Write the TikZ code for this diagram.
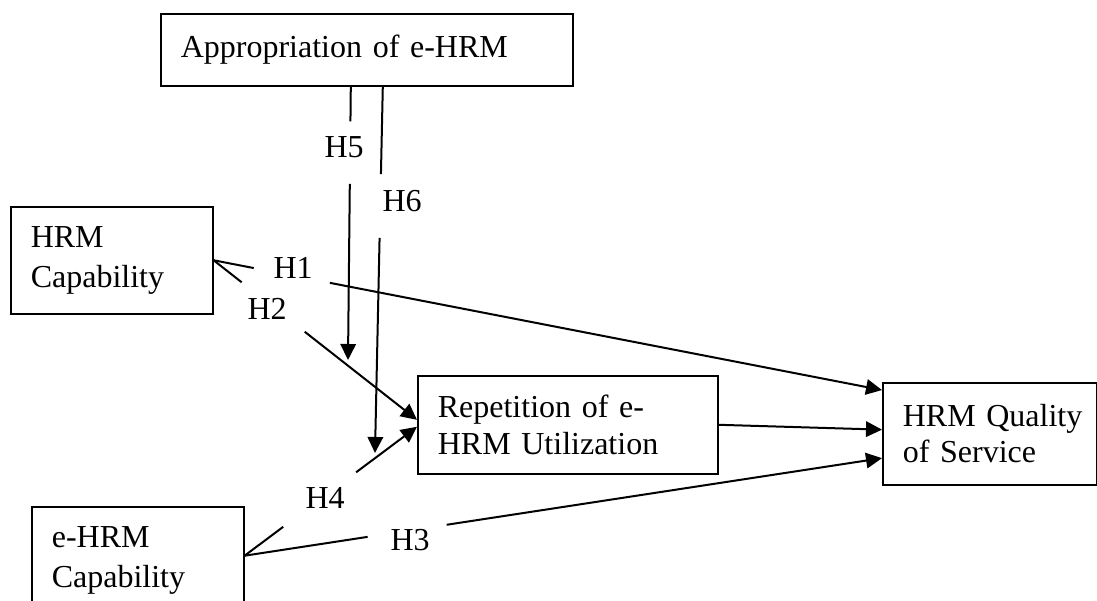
\documentclass[tikz,border=0pt]{standalone}
\usepackage{fontspec}
\setmainfont{Liberation Serif}
\usetikzlibrary{arrows.meta,calc}
\begin{document}
\begin{tikzpicture}[x=0.375pt,y=-0.375pt,
  box/.style={draw, line width=0.6pt, anchor=north west, align=left, inner xsep=7.5pt, inner ysep=0pt},
  conn/.style={line width=0.75pt},
  arr/.style={conn, -{Triangle[length=6pt,width=5.8pt]}},
  lab/.style={anchor=base west, inner sep=0pt, font=\fontsize{12}{14}\selectfont}]
\useasboundingbox (0,0) rectangle (1097,601);
% boxes
\node[box, text width=139.5pt, minimum height=27pt, font=\fontsize{12}{14}\selectfont] (app) at (160,13) {Appropriation of e-HRM};
\node[box, text width=60.75pt, minimum height=40.1pt, font=\fontsize{12}{15}\selectfont] (hrmcap) at (10,206) {HRM\\Capability};
\node[box, text width=64.5pt, minimum height=40.1pt, font=\fontsize{12}{15}\selectfont] (ecap) at (31,506) {e-HRM\\Capability};
\node[box, text width=97.5pt, minimum height=36.75pt, font=\fontsize{12}{13.9}\selectfont] (rep) at (417,375) {Repetition of e-\\HRM Utilization};
\node[box, text width=65.25pt, minimum height=38.25pt, font=\fontsize{12}{13.6}\selectfont] (qos) at (882,382) {\mbox{HRM Quality}\\of Service};
% anchor points
\coordinate (es) at ($(ecap.north east)!0.458!(ecap.south east)$);
\coordinate (q1) at ($(qos.north west)!0.078!(qos.south west)$);
\coordinate (q2) at ($(qos.north west)!0.46!(qos.south west)$);
\coordinate (q3) at ($(qos.north west)!0.735!(qos.south west)$);
\coordinate (r2) at ($(rep.north west)!0.45!(rep.south west)$);
\coordinate (r4) at ($(rep.north west)!0.52!(rep.south west)$);
\coordinate (h5s) at ($(app.south)+(-16,0)$);
\coordinate (h6s) at ($(app.south)+(16,0)$);
\coordinate (h5e) at (348,360);
\coordinate (h6e) at (375,453);
% H1
\draw[conn] (hrmcap.east) -- ($(hrmcap.east)!0.06!(q1)$);
\draw[arr] ($(hrmcap.east)!0.174!(q1)$) -- (q1);
% H2
\draw[conn] (hrmcap.east) -- ($(hrmcap.east)!0.138!(r2)$);
\draw[arr] ($(hrmcap.east)!0.448!(r2)$) -- (r2);
% H3
\draw[conn] (es) -- ($(es)!0.193!(q3)$);
\draw[arr] ($(es)!0.317!(q3)$) -- (q3);
% H4
\draw[conn] (es) -- ($(es)!0.224!(r4)$);
\draw[arr] ($(es)!0.647!(r4)$) -- (r4);
% H5
\draw[conn] (h5s) -- ($(h5s)!0.127!(h5e)$);
\draw[arr] ($(h5s)!0.356!(h5e)$) -- (h5e);
% H6
\draw[conn] (h6s) -- ($(h6s)!0.239!(h6e)$);
\draw[arr] ($(h6s)!0.413!(h6e)$) -- (h6e);
% Repetition -> Quality
\draw[arr] (rep.east) -- (q2);
% labels
\node[lab] (H1) at (273,279) {H1};
\node[lab] (H2) at (247,320) {H2};
\node[lab] (H3) at (390,551) {H3};
\node[lab] (H4) at (305,509) {H4};
\node[lab] (H5) at (324,158) {H5};
\node[lab] (H6) at (382,212) {H6};
\end{tikzpicture}
\end{document}
